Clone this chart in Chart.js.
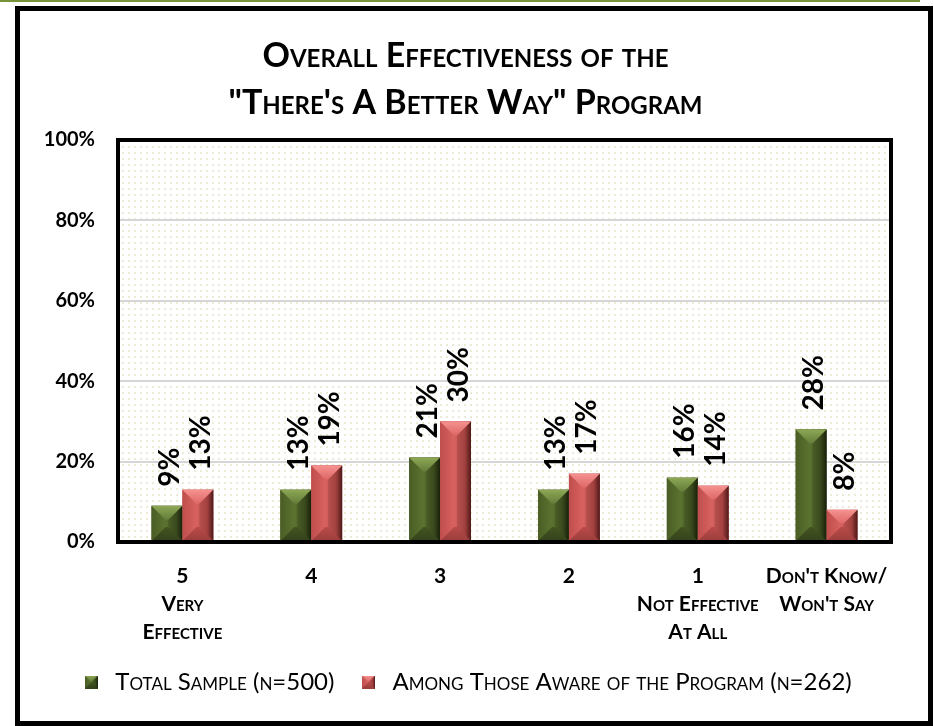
<!DOCTYPE html>
<html>
<head>
<meta charset="utf-8">
<title>Overall Effectiveness</title>
<script src="https://cdn.jsdelivr.net/npm/chart.js@4.4.0/dist/chart.umd.min.js"></script>
<style>
  html, body { margin: 0; padding: 0; background: #fff; }
  #wrap { position: relative; width: 934px; height: 726px; overflow: hidden; }
  #topline { position: absolute; left: 0; top: 0; width: 920px; height: 2px; background: #77933C; }
  #frame { position: absolute; left: 15px; top: 6px; width: 918px; height: 720px; box-sizing: border-box; border: 5px solid #000; }
  canvas { position: absolute; left: 0; top: 0; }
</style>
</head>
<body>
<div id="wrap">
  <div id="topline"></div>
  <div id="frame"></div>
  <canvas id="chart" width="934" height="726"></canvas>
</div>
<script>
// Data
const categories = [
    ['5', 'Very', 'Effective'],
    ['4'],
    ['3'],
    ['2'],
    ['1', 'Not Effective', 'At All'],
    ["Don't Know/", "Won't Say"]
];
const totalSample = [9, 13, 21, 13, 16, 28];
const awareSample = [13, 19, 30, 17, 14, 8];
const seriesNames = ['Total Sample (n=500)', 'Among Those Aware of the Program (n=262)'];
const titleLines = ['Overall Effectiveness of the', '"There\'s A Better Way" Program'];
const yMax = 100;
const yStep = 20;

// Colours for the bevelled bars
const palettes = [
    { side: '#4A5D25', mid: '#5B7330', body: '#435421', dark: '#1C250B', hi: '#8DA855', hi2: '#647C3A', low: '#34421A' },
    { side: '#BF4E4C', mid: '#D8625F', body: '#BA4B49', dark: '#5A1D1C', hi: '#F59290', hi2: '#DD6866', low: '#9A3E3C' }
];

Chart.defaults.font.family = 'Lato';
Chart.defaults.color = '#000';

function poly(ctx, pts, fill) {
    ctx.beginPath();
    ctx.moveTo(pts[0][0], pts[0][1]);
    for (let i = 1; i < pts.length; i++) ctx.lineTo(pts[i][0], pts[i][1]);
    ctx.closePath();
    ctx.fillStyle = fill;
    ctx.fill();
}

// bevel shading drawn over a bar rectangle
function drawBevel(ctx, l, t, r, b, pal) {
    const w = r - l, h = b - t;
    if (w <= 0 || h <= 0) return;
    const d = Math.min(w / 2, h / 2, 14);
    ctx.save();
    const g = ctx.createLinearGradient(l, 0, r, 0);
    g.addColorStop(0, pal.side);
    g.addColorStop(0.45, pal.mid);
    g.addColorStop(0.8, pal.body);
    g.addColorStop(1, pal.dark);
    ctx.fillStyle = g;
    ctx.fillRect(l, t, w, h);

    const gt = ctx.createLinearGradient(0, t, 0, t + d);
    gt.addColorStop(0, pal.hi);
    gt.addColorStop(1, pal.hi2);
    poly(ctx, [[l, t], [r, t], [r - d, t + d], [l + d, t + d]], gt);

    const gb = ctx.createLinearGradient(0, b - d, 0, b);
    gb.addColorStop(0, pal.body);
    gb.addColorStop(1, pal.low);
    poly(ctx, [[l, b], [r, b], [r - d, b - d], [l + d, b - d]], gb);

    poly(ctx, [[r, t], [r, b], [r - d, b - d], [r - d, t + d]], 'rgba(0,0,0,0.12)');
    ctx.restore();
}

// little bevelled squares for the legend
const legendIcons = palettes.map(pal => {
    const c = document.createElement('canvas');
    c.width = 13; c.height = 13;
    drawBevel(c.getContext('2d'), 0, 0, 13, 13, pal);
    return c;
});

const plotDecor = {
    id: 'plotDecor',
    beforeDraw(chart) {
        const { ctx, chartArea: a } = chart;
        const tile = document.createElement('canvas');
        tile.width = 6; tile.height = 6;
        const tc = tile.getContext('2d');
        tc.fillStyle = '#ECECD6';
        tc.fillRect(2, 2, 2, 2);
        ctx.save();
        ctx.fillStyle = ctx.createPattern(tile, 'repeat');
        ctx.fillRect(a.left, a.top, a.right - a.left, a.bottom - a.top);
        ctx.restore();
    },
    afterDatasetsDraw(chart) {
        const ctx = chart.ctx;
        chart.data.datasets.forEach((ds, i) => {
            const meta = chart.getDatasetMeta(i);
            meta.data.forEach((bar, j) => {
                const p = bar.getProps(['x', 'y', 'base', 'width'], true);
                drawBevel(ctx, p.x - p.width / 2, p.y, p.x + p.width / 2, p.base, palettes[i]);
                // rotated value label
                ctx.save();
                ctx.translate(p.x + 3, p.y - 19);
                ctx.rotate(-Math.PI / 2);
                ctx.font = 'bold 28px Lato';
                ctx.fillStyle = '#000';
                ctx.textAlign = 'left';
                ctx.textBaseline = 'middle';
                ctx.fillText(ds.data[j] + '%', 0, 0);
                ctx.restore();
            });
        });
    },
    afterDraw(chart) {
        const { ctx, chartArea: a } = chart;
        ctx.save();
        ctx.strokeStyle = '#000';
        ctx.lineWidth = 4;
        ctx.strokeRect(a.left, a.top, a.right - a.left, a.bottom - a.top);
        ctx.restore();
    }
};

new Chart(document.getElementById('chart'), {
    type: 'bar',
    data: {
        labels: categories,
        datasets: [
            { label: seriesNames[0], data: totalSample, backgroundColor: palettes[0].body },
            { label: seriesNames[1], data: awareSample, backgroundColor: palettes[1].body }
        ]
    },
    options: {
        responsive: false,
        animation: false,
        devicePixelRatio: 1,
        categoryPercentage: 0.48,
        barPercentage: 1.0,
        layout: { padding: { left: 40, right: 43, top: 22, bottom: 22 } },
        plugins: {
            title: {
                display: true,
                text: titleLines,
                color: '#000',
                font: { size: 34, weight: 'small-caps bold', lineHeight: '47px' },
                padding: { top: 11, bottom: 13 }
            },
            legend: {
                position: 'bottom',
                labels: {
                    usePointStyle: true,
                    padding: 22,
                    color: '#000',
                    font: { size: 24, weight: 'small-caps' },
                    generateLabels: chart => chart.data.datasets.map((ds, i) => ({
                        text: ds.label,
                        pointStyle: legendIcons[i],
                        fillStyle: palettes[i].body,
                        strokeStyle: 'transparent',
                        lineWidth: 0,
                        fontColor: '#000',
                        hidden: false,
                        datasetIndex: i
                    }))
                }
            },
            tooltip: { enabled: false }
        },
        scales: {
            x: {
                grid: { display: false },
                border: { display: false },
                ticks: {
                    autoSkip: false,
                    maxRotation: 0,
                    padding: 12,
                    color: '#000',
                    font: { size: 21, weight: 'small-caps bold', lineHeight: 1.33 }
                },
                afterFit: scale => { scale.height = 106; }
            },
            y: {
                min: 0,
                max: yMax,
                grid: { color: '#D6D6D6', lineWidth: 2, drawTicks: false },
                border: { display: false },
                ticks: {
                    stepSize: yStep,
                    padding: 23,
                    color: '#000',
                    font: { size: 20, weight: 'bold' },
                    callback: v => v + '%'
                },
                afterFit: scale => { scale.width = 78; }
            }
        }
    },
    plugins: [plotDecor]
});
</script>
</body>
</html>
